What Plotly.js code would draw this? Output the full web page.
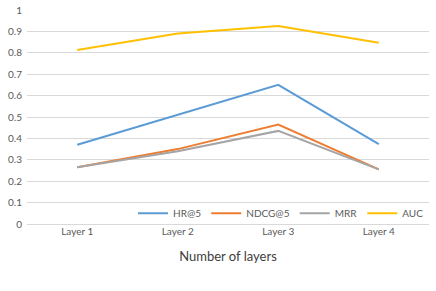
<!DOCTYPE html>
<html><head><meta charset="utf-8">
<script src="https://cdn.plot.ly/plotly-3.0.1.min.js"></script>
<style>html,body{margin:0;padding:0;background:#fff}#c{width:436px;height:291px}</style>
</head><body><div id="c"></div>
<script>
var categories = ["Layer 1", "Layer 2", "Layer 3", "Layer 4"];
var hr5 = [0.37, 0.51, 0.65, 0.373];
var ndcg5 = [0.265, 0.35, 0.465, 0.255];
var mrr = [0.265, 0.34, 0.435, 0.255];
var auc = [0.813, 0.89, 0.925, 0.847];
var seriesNames = ["HR@5", "NDCG@5", "MRR", "AUC"];
var colors = ["#5B9BD5", "#ED7D31", "#A5A5A5", "#FFC000"];
var vals = [hr5, ndcg5, mrr, auc];
var traces = vals.map(function(v, i){
  return {x: categories, y: v, type: "scatter", mode: "lines", name: seriesNames[i],
    line: {color: colors[i], width: 2}};
});
var layout = {
  width: 436, height: 291,
  margin: {l: 27, r: 7, t: 10, b: 67},
  paper_bgcolor: "#fff", plot_bgcolor: "#fff",
  font: {family: "Lato, 'Open Sans', sans-serif", color: "#595959", size: 10},
  showlegend: true,
  legend: {orientation: "h", x: 1, xanchor: "right", y: 0.05, yanchor: "middle",
    bgcolor: "rgba(255,255,255,0)", font: {size: 10, color: "#595959"}, itemwidth: 30, tracegroupgap: 0},
  xaxis: {type: "category", range: [-0.5, 3.5], showgrid: false, showline: false, zeroline: false,
    ticks: "", tickfont: {size: 10, color: "#595959"},
    title: {text: "Number of layers", font: {size: 13, color: "#404040"}, standoff: 15}},
  yaxis: {range: [0, 1], dtick: 0.1, tick0: 0, showgrid: true, gridcolor: "#D9D9D9", gridwidth: 1,
    zeroline: true, zerolinecolor: "#D9D9D9", zerolinewidth: 1, showline: false, ticks: "",
    tickfont: {size: 10, color: "#595959"}, ticklabelstandoff: 4}
};
Plotly.newPlot("c", traces, layout, {displayModeBar: false, staticPlot: true});
</script></body></html>
